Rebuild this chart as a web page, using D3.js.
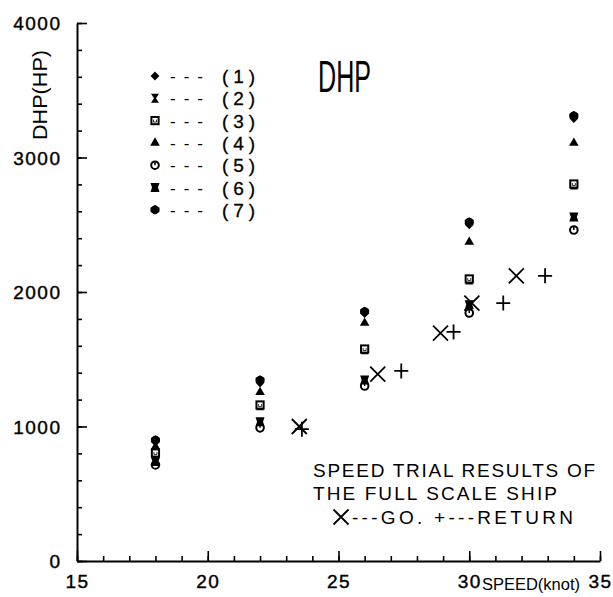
<!DOCTYPE html>
<html>
<head>
<meta charset="utf-8">
<script src="https://cdn.jsdelivr.net/npm/d3@7"></script>
<style>
  body { margin: 0; background: #fff; }
  svg text { font-family: "Liberation Sans Narrow", "Liberation Sans", sans-serif; fill: #000; }
</style>
</head>
<body>
<svg id="chart" width="613" height="597"></svg>
<script>
// ship speed (knot) used for the model test estimates
const speeds = [18, 22, 26, 30, 34];
const seriesLabels = ["(1)", "(2)", "(3)", "(4)", "(5)", "(6)", "(7)"];
// DHP (HP) estimated by each method
const dhp1 = [885, 1325, 1840, 2500, 3290];
const dhp2 = [795, 1155, 1570, 2090, 2795];
const dhp3 = [803, 1160, 1576, 2097, 2803];
const dhp4 = [850, 1255, 1770, 2372, 3108];
const dhp5 = [714, 990, 1301, 1844, 2461];
const dhp6 = [740, 1035, 1346, 1905, 2557];
const dhp7 = [900, 1345, 1855, 2520, 3310];
// full scale speed trial
const goSpeed = [23.5, 26.5, 28.9, 30.1, 31.8];
const goDhp = [1000, 1390, 1695, 1918, 2120];
const returnSpeed = [23.6, 27.4, 29.4, 31.3, 32.9];
const returnDhp = [980, 1413, 1703, 1918, 2120];
const xTicks = [15, 20, 25, 30, 35];
const yTicks = [0, 1000, 2000, 3000, 4000];

const allSeries = [dhp1, dhp2, dhp3, dhp4, dhp5, dhp6, dhp7];

let svg = d3.select("#chart");
let x = d3.scaleLinear().domain([15, 35]).range([77, 600]);
let y = d3.scaleLinear().domain([0, 4000]).range([561, 23]);

// marker shapes, one per method
function marker(sel, i) {
    if (i === 0) {
        sel.append("path").attr("d", "M0,-4.6L4.4,0L0,4.6L-4.4,0Z").attr("fill", "#000");
    } else if (i === 1) {
        sel.append("path").attr("d", "M-4,-4.5H4L1,0L4,4.5H-4L-1,0Z").attr("fill", "#000");
    } else if (i === 2) {
        sel.append("rect").attr("x", -3.6).attr("y", -3.6).attr("width", 7.2).attr("height", 7.2)
            .attr("fill", "#fff").attr("stroke", "#000").attr("stroke-width", 2);
        sel.append("path").attr("d", "M-1.5,-1V1.5H1.5V-1").attr("fill", "none").attr("stroke", "#000").attr("stroke-width", 0.8);
    } else if (i === 3) {
        sel.append("path").attr("d", d3.symbol(d3.symbolTriangle, 40)()).attr("fill", "#000");
    } else if (i === 4) {
        sel.append("circle").attr("r", 3.8).attr("fill", "#fff").attr("stroke", "#000").attr("stroke-width", 2);
        sel.append("path").attr("d", "M0,-3.8V0").attr("stroke", "#000").attr("stroke-width", 1.5);
    } else if (i === 5) {
        sel.append("path").attr("d", "M-4.5,-4.5H4.5L3,0L4.5,4.5H-4.5L-3,0Z").attr("fill", "#000");
    } else {
        sel.append("path").attr("d", d3.symbol(d3.symbolCircle, 55)()).attr("fill", "#000");
        sel.append("path").attr("d", "M-4.5,-2L0,-4.8L4.5,-2V2L0,4.8L-4.5,2Z").attr("fill", "#000");
    }
}

// axes: minor ticks first, then major ticks with labels
svg.append("g")
    .attr("transform", "translate(0,561)")
    .call(d3.axisBottom(x).tickValues(d3.range(15, 36, 1)).tickSizeInner(-5).tickSizeOuter(0).tickFormat(""))
    .call(g => g.select(".domain").remove());
let xAxis = svg.append("g")
    .attr("transform", "translate(0,561)")
    .call(d3.axisBottom(x).tickValues(xTicks).tickSizeInner(-10).tickSizeOuter(0).tickPadding(14).tickFormat(d3.format("d")));
svg.append("g")
    .attr("transform", "translate(77,0)")
    .call(d3.axisLeft(y).tickValues(d3.range(0, 4001, 200)).tickSizeInner(-5).tickSizeOuter(0).tickFormat(""))
    .call(g => g.select(".domain").remove());
let yAxis = svg.append("g")
    .attr("transform", "translate(77,0)")
    .call(d3.axisLeft(y).tickValues(yTicks).tickSizeInner(-10).tickSizeOuter(0).tickPadding(17).tickFormat(d3.format("d")));

svg.selectAll(".tick line").attr("stroke", "#000").attr("stroke-width", 1.6);
svg.selectAll(".domain").attr("stroke", "#000").attr("stroke-width", 2);
svg.selectAll(".tick text")
    .attr("font-family", null)
    .attr("font-size", 19)
    .attr("letter-spacing", 1.5)
    .attr("stroke", "#000")
    .attr("stroke-width", 0.4);
yAxis.selectAll(".tick text").attr("dy", "0.36em").attr("dx", 1.5);

svg.append("text")
    .attr("x", 482).attr("y", 590)
    .attr("font-size", 16)
    .attr("textLength", 98).attr("lengthAdjust", "spacingAndGlyphs")
    .text("SPEED(knot)");

svg.append("text")
    .attr("transform", "translate(47,95) rotate(-90)")
    .attr("text-anchor", "middle")
    .attr("font-size", 20)
    .attr("textLength", 90).attr("lengthAdjust", "spacingAndGlyphs")
    .text("DHP(HP)");

svg.append("text")
    .attr("x", 318).attr("y", 92)
    .attr("font-size", 45)
    .attr("textLength", 53).attr("lengthAdjust", "spacingAndGlyphs")
    .text("DHP");

// legend
let legend = svg.append("g");
seriesLabels.forEach((lab, i) => {
    let ly = 76 + i * 22.3;
    let m = legend.append("g").attr("transform", `translate(155,${ly})`);
    marker(m, i);
    legend.append("text").attr("x", 170).attr("y", ly + 6)
        .attr("font-size", 17).attr("textLength", 33).attr("lengthAdjust", "spacing")
        .text("---");
    legend.append("text").attr("x", 222).attr("y", ly + 7)
        .attr("font-size", 19).attr("textLength", 33).attr("lengthAdjust", "spacing")
        .attr("stroke", "#000").attr("stroke-width", 0.3)
        .text(lab);
});

// estimated points
allSeries.forEach((vals, i) => {
    svg.append("g").selectAll("g")
        .data(vals)
        .join("g")
        .attr("transform", (d, j) => `translate(${x(speeds[j])},${y(d)})`)
        .each(function () { marker(d3.select(this), i); });
});

// trial results
let trial = svg.append("g").attr("stroke", "#000").attr("stroke-width", 1.8).attr("fill", "none");
trial.selectAll(".go")
    .data(goSpeed)
    .join("path")
    .attr("class", "go")
    .attr("transform", (d, i) => `translate(${x(d)},${y(goDhp[i])})`)
    .attr("d", "M-7.5,-7.5L7.5,7.5M-7.5,7.5L7.5,-7.5");
trial.selectAll(".ret")
    .data(returnSpeed)
    .join("path")
    .attr("class", "ret")
    .attr("transform", (d, i) => `translate(${x(d)},${y(returnDhp[i])})`)
    .attr("d", "M-7,0H7M0,-7.5V7.5");

// note
let note = svg.append("g").attr("font-size", 19);
note.append("text").attr("x", 313).attr("y", 477)
    .attr("textLength", 282).attr("lengthAdjust", "spacing").text("SPEED TRIAL RESULTS OF");
note.append("text").attr("x", 313).attr("y", 500)
    .attr("textLength", 244).attr("lengthAdjust", "spacing").text("THE FULL SCALE SHIP");
note.append("path")
    .attr("transform", "translate(341,517)")
    .attr("d", "M-7.5,-7.5L7.5,7.5M-7.5,7.5L7.5,-7.5")
    .attr("stroke", "#000").attr("stroke-width", 1.8);
note.append("text").attr("x", 352).attr("y", 524)
    .attr("textLength", 221).attr("lengthAdjust", "spacing").text("---GO. +---RETURN");
</script>
</body>
</html>
